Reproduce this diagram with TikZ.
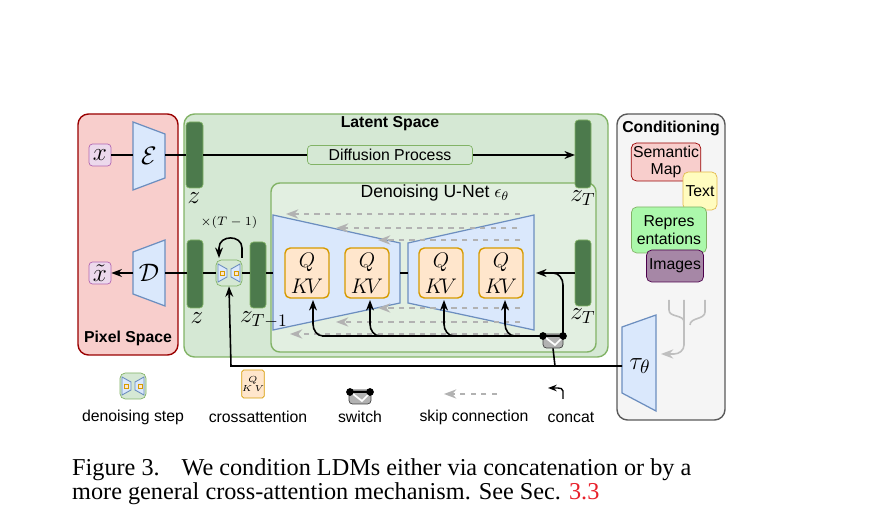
\documentclass[tikz,border=0pt]{standalone}
\usepackage{amsmath}
\usepackage{fontspec}
\setmainfont{Liberation Serif}
\setsansfont{Liberation Sans}
\usetikzlibrary{positioning,calc,arrows.meta}
\definecolor{pixred}{HTML}{F8CECC}
\definecolor{latgreen}{HTML}{D5E8D4}
\definecolor{lineg}{HTML}{82B366}
\definecolor{bargreen}{HTML}{4C7A4C}
\definecolor{unetblue}{HTML}{DAE8FC}
\definecolor{lineb}{HTML}{6C8EBF}
\definecolor{qkvfill}{HTML}{FFE6CC}
\definecolor{lineo}{HTML}{D79B00}
\definecolor{cndgray}{HTML}{F5F5F5}
\definecolor{capred}{HTML}{E8202A}
\begin{document}
\begin{tikzpicture}[
    x=0.02cm, y=-0.02cm,
    font=\fontsize{14}{14}\selectfont,
    panel/.style={draw, rounded corners=6pt, line width=0.8pt},
    title/.style={font=\sffamily\bfseries\fontsize{9}{10}\selectfont},
    label/.style={font=\sffamily\fontsize{9}{10}\selectfont},
    bar/.style={draw=lineg, fill=bargreen, rounded corners=2pt},
    var/.style={draw=violet!60, fill=violet!15, rounded corners=2pt, minimum size=22*0.02cm, inner sep=0pt},
    qkv/.style={draw=lineo, fill=qkvfill, rounded corners=3pt, line width=0.8pt, minimum width=44*0.02cm, minimum height=50*0.02cm, inner sep=0pt, align=center, font=\fontsize{13}{14}\selectfont},
    net/.style={draw=lineb, fill=unetblue, line width=0.7pt},
    conn/.style={-{Stealth[length=6pt]}, line width=0.9pt},
    skip/.style={-{Stealth[length=7pt]}, dashed, gray!60, line width=0.9pt},
    cond/.style={draw, rounded corners=3pt, inner sep=1pt, align=center, font=\sffamily\fontsize{9}{10}\selectfont}
]
\useasboundingbox (0,0) rectangle (870,530);

% Panels
\draw[panel, draw=red!60!black, fill=pixred] (78,114) rectangle (178,355);
\draw[panel, draw=lineg, fill=latgreen] (184,114) rectangle (608,357);
\draw[panel, draw=gray!70!black, fill=cndgray] (617,114) rectangle (725,420);
\draw[panel, draw=lineg, fill=latgreen!70!white, rounded corners=5pt] (271,183) rectangle (596,352);
\node[title] at (128,338) {Pixel Space};
\node[title] at (390,124) {Latent Space};
\node[title] at (671,128) {Conditioning};
\node[label, font=\sffamily\fontsize{10}{10}\selectfont] at (435,193) {Denoising U-Net $\epsilon_\theta$};

% Pixel space
\node[var] (x) at (100,155) {$x$};
\node[var] (xt) at (100,273) {$\tilde{x}$};
\draw[net] (133,122) -- (165,134) -- (165,178) -- (133,190) -- cycle;
\node at (149,156) {$\mathcal{E}$};
\coordinate (Ein) at (133,155); \coordinate (Eout) at (165,155);
\draw[net] (133,252) -- (165,240) -- (165,306) -- (133,294) -- cycle;
\node at (149,273) {$\mathcal{D}$};
\coordinate (Din) at (165,273); \coordinate (Dout) at (133,273);

% Latent bars
\draw[bar] (186,122) rectangle (203,188); \coordinate (z1) at (194,155);
\draw[bar] (187,240) rectangle (203,308); \coordinate (z2) at (195,273);
\draw[bar] (575,120) rectangle (591,188); \coordinate (zT1) at (583,155);
\draw[bar] (575,240) rectangle (591,306); \coordinate (zT2) at (583,273);
\draw[bar] (250,242) rectangle (266,308); \coordinate (zm) at (258,273);

% Encoder / decoder links
\draw[line width=0.9pt] (x) -- (Ein);
\draw[line width=0.9pt] (Eout) -- (186,155);
\draw[line width=0.9pt] (187,273) -- (Din);
\draw[conn] (Dout) -- (xt);
\node[draw=lineg, fill=latgreen, rounded corners=2pt, label, minimum width=165*0.02cm, minimum height=19*0.02cm, inner sep=0pt] (diff) at (390,155) {Diffusion Process};
\draw[line width=0.9pt] (203,155) -- (diff);
\draw[conn] (diff) -- (575,155);

% Denoising step
\node[draw=lineg, fill=latgreen, rounded corners=3pt, minimum size=26*0.02cm] (step) at (229,273) {};
\draw[net, line width=0.5pt] (218,264) -- (227,269) -- (227,277) -- (218,282) -- cycle;
\draw[net, line width=0.5pt] (240,264) -- (231,269) -- (231,277) -- (240,282) -- cycle;
\fill[qkvfill, draw=lineo, line width=0.3pt] (220,271) rectangle (224,275) (234,271) rectangle (238,275);
\draw[line width=0.6pt] (203,273) -- (step) -- (250,273);
\draw[conn] (242,258) -- (242,248) to[out=90, in=90, looseness=1.5] (219,248) -- (219,258);
\node[font=\fontsize{7}{7}\selectfont] at (229,222) {$\times(T-1)$};

% U-Net
\draw[net] (273,215) -- (400,243) -- (400,303) -- (273,330) -- cycle;
\draw[net] (408,243) -- (534,215) -- (534,330) -- (408,303) -- cycle;
\draw[line width=0.9pt] (266,273) -- (273,273);
\draw[line width=0.6pt] (400,273) -- (408,273);
\foreach \sx/\sy/\ex in {520/214/286, 517/228/336, 520/240/378, 520/308/378, 520/322/336, 520/334/290}
  \draw[skip] (\sx,\sy) -- (\ex,\sy);
\node[qkv] (q1) at (307,273) {$Q$\\[1pt]$K\!V$};
\node[qkv] (q2) at (367,273) {$Q$\\[1pt]$K\!V$};
\node[qkv] (q3) at (441,273) {$Q$\\[1pt]$K\!V$};
\node[qkv] (q4) at (501,273) {$Q$\\[1pt]$K\!V$};
\draw[conn] (575,273) -- (536,273);

% Latent labels
\node at (194,198) {$z$};
\node at (197,318) {$z$};
\node at (583,198) {$z_T$};
\node at (583,316) {$z_T$};
\node at (264,320) {$z_{T-1}$};

% Switch and cross-attention feed
\node[draw=gray!50!black, fill=gray!60, rounded corners=2pt, minimum width=20*0.02cm, minimum height=14*0.02cm, inner sep=0pt] (sw) at (553,341) {};
\fill (543,336) circle (2.2pt) (563,336) circle (2.2pt);
\draw[white, line width=1pt] (546,338) -- (555,345) -- (561,339);
\draw[line width=0.9pt] (563,336) -- (322,336);
\foreach \qx in {313,370,444,505}
  \draw[conn] (\qx+10,336) to[out=180, in=-90] (\qx,324) -- (\qx,300);
\draw[line width=0.9pt] (563,336) -- (563,285) to[out=90, in=0] (553,273);

% tau
\draw[net] (622,327) -- (656,315) -- (656,411) -- (622,393) -- cycle;
\node[font=\fontsize{15}{15}\selectfont] (tau) at (640,366) {$\tau_\theta$};
\draw[line width=0.9pt] (622,366) -- (555,366) -- (sw.south);
\draw[conn] (555,366) -- (231,366) -- (step.south);

% Conditioning inputs
\node[cond, draw=red!60!black, fill=pixred, minimum width=68*0.02cm, minimum height=38*0.02cm] (sem) at (666,162) {Semantic\\Map};
\node[cond, draw=lineo!70, fill=yellow!25, minimum width=34*0.02cm, minimum height=38*0.02cm] (txt) at (700,191) {Text};
\node[cond, draw=lineg, fill=green!40!white!70!latgreen, minimum width=75*0.02cm, minimum height=46*0.02cm] (rep) at (669,230) {Repres\\entations};
\node[cond, draw=violet!60!black, fill=violet!35!gray!70, minimum width=57*0.02cm, minimum height=32*0.02cm] (img) at (675,266) {Images};
\draw[gray!50, line width=0.9pt] (669,300) -- (669,310) to[out=-90, in=90] (684,322)
  (705,300) -- (705,312) to[out=-90, in=90] (690,325);
\draw[-{Stealth[length=7pt]}, gray!50, line width=0.9pt] (684,300) -- (684,345) to[out=-90, in=0] (674,354) -- (661,354);

% Legend
\node[draw=lineg, fill=latgreen, rounded corners=3pt, minimum size=26*0.02cm] (lstep) at (133,386) {};
\draw[net, line width=0.5pt] (122,377) -- (131,382) -- (131,390) -- (122,395) -- cycle;
\draw[net, line width=0.5pt] (144,377) -- (135,382) -- (135,390) -- (144,395) -- cycle;
\fill[qkvfill, draw=lineo, line width=0.3pt] (124,384) rectangle (128,388) (138,384) rectangle (142,388);
\node[label] at (133,417) {denoising step};
\node[draw=lineo, fill=qkvfill, rounded corners=1pt, minimum width=16*0.02cm, minimum height=28*0.02cm, inner sep=0pt, align=center, font=\fontsize{4}{4}\selectfont] (lqkv) at (253,384) {$Q$\\$K\,V$};
\node[label] at (258,417) {crossattention};
\node[draw=gray!50!black, fill=gray!60, rounded corners=2pt, minimum width=22*0.02cm, minimum height=14*0.02cm, inner sep=0pt] (lsw) at (360,397) {};
\fill (350,392) circle (2.2pt) (370,392) circle (2.2pt);
\draw[line width=0.9pt] (350,392) -- (370,392);
\draw[white, line width=1pt] (353,394) -- (362,401) -- (368,395);
\node[label] at (360,417) {switch};
\coordinate (lsk1) at (497,394); \coordinate (lsk2) at (444,394);
\draw[skip] (lsk1) -- (lsk2);
\node[label] at (474,417) {skip connection};
\coordinate (lc1) at (563,399); \coordinate (lc2) at (548,388);
\draw[-{Stealth[length=5pt]}, line width=0.8pt] (lc1) -- (563,391) to[out=90, in=0] (558,388) -- (lc2);
\node[label] at (571,417) {concat};

% Caption
\node[anchor=west, font=\fontsize{13.8}{16}\selectfont] at (66,470) {Figure 3.\hspace{0.9em}We condition LDMs either via concatenation or by a};
\node[anchor=west, font=\fontsize{13.8}{16}\selectfont] at (66,494) {more general cross-attention mechanism. See Sec. \textcolor{capred}{3.3}};
\end{tikzpicture}
\end{document}
